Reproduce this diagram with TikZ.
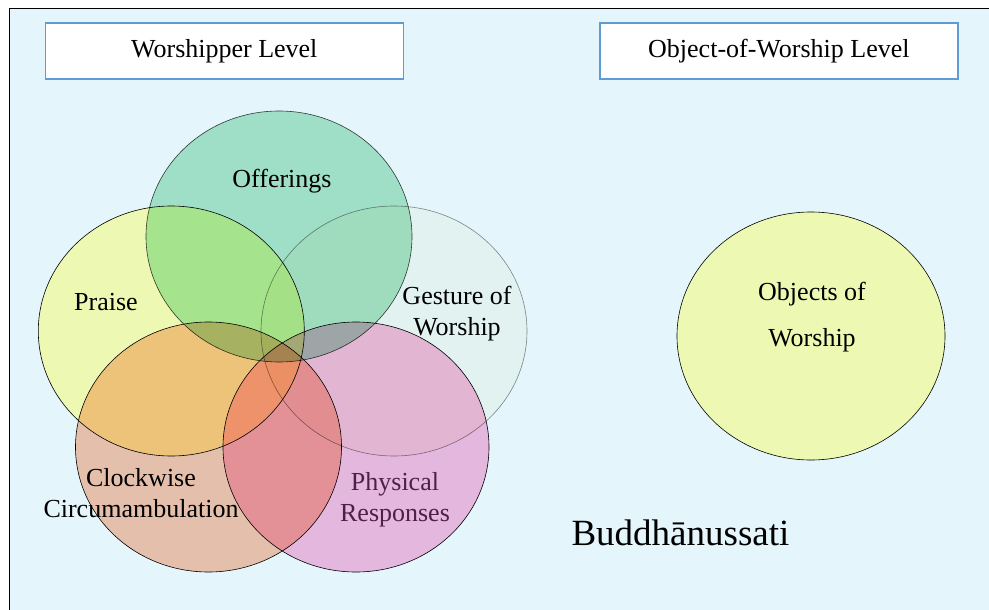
\documentclass[tikz,border=0pt]{standalone}
\usepackage{fontspec}
\setmainfont{Liberation Serif}
\usetikzlibrary{positioning}
\definecolor{panel}{RGB}{228,245,252}
\definecolor{boxblue}{RGB}{95,155,213}
\definecolor{praisefill}{RGB}{237,249,178}
\definecolor{offerfill}{RGB}{179,233,202}
\definecolor{gesturefill}{RGB}{253,252,243}
\definecolor{clockfill}{RGB}{255,200,175}
\definecolor{physfill}{RGB}{255,192,225}
\definecolor{physink}{RGB}{80,30,70}
\tikzset{
  levelbox/.style={draw=boxblue, line width=1.6pt, fill=white,
    minimum width=358pt, minimum height=56pt, inner sep=0pt,
    font=\fontsize{26}{31}\selectfont},
  blob/.style={draw=black, line width=0.6pt},
  venntext/.style={align=center, inner sep=0pt, font=\fontsize{26}{31}\selectfont}
}

\begin{document}
\begin{tikzpicture}[x=1pt,y=-1pt]
\useasboundingbox (0,0) rectangle (989,610);

% Outer panel, its right and bottom edges run off the page
\draw [line width=1.8pt, fill=panel] (9.5,8.5) rectangle (1000,620);

% Place the two level boxes
\node [levelbox] (wlevel) at (224.3,51.2) {Worshipper Level};
\node [levelbox, right=195pt of wlevel] (olevel) {Object-of-Worship Level};

% Praise lies at the bottom, the other circles multiply over it
\draw [blob, fill=praisefill]  (171.3,331) ellipse [x radius=133, y radius=125];
\begin{scope}[blend mode=multiply]
\draw [blob, fill=offerfill, draw=black!75] (279,236.5) ellipse [x radius=133, y radius=125.5];
\draw [blob, fill=gesturefill, draw=black!45] (394,331) ellipse [x radius=133, y radius=125];
\draw [blob, fill=clockfill]   (208.5,447) ellipse [x radius=133, y radius=125];
\draw [blob, fill=physfill]    (356,447) ellipse [x radius=133, y radius=125];
\end{scope}

% Circle of the object-of-worship level
\draw [blob, fill=praisefill] (811,336) ellipse [x radius=134, y radius=124];

% Label the circles
\node [venntext] (offer)   at (282,181)   {Offerings};
\node [venntext] (praise)  at (106,302)   {Praise};
\node [venntext] (gesture) at (457,313.5) {Gesture of\\Worship};
\node [venntext] (clock)   at (141,493)   {Clockwise\\Circumambulation};
\node [venntext, text=physink] (phys) at (395,499.5) {Physical\\Responses};
\node [venntext, font=\fontsize{26}{46}\selectfont] (objects) at (812,317)
  {Objects of\\Worship};

% Name of the whole practice
\node [inner sep=0pt, font=\fontsize{37}{44}\selectfont] (buddha) at (680.5,533)
  {Buddhānussati};
\end{tikzpicture}
\end{document}
